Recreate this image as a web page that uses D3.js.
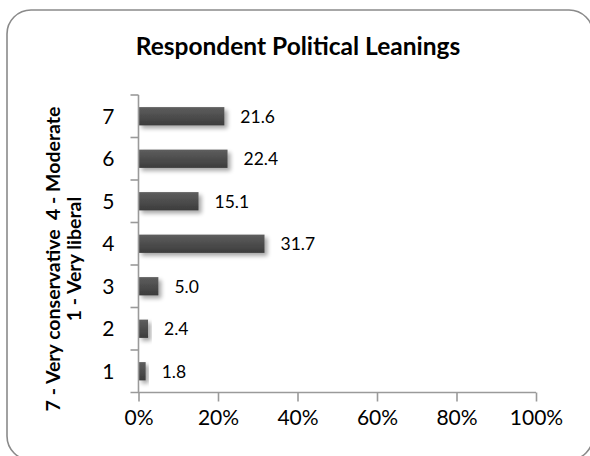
<!DOCTYPE html>
<html>
<head>
<meta charset="utf-8">
<script src="https://cdn.jsdelivr.net/npm/d3@7"></script>
<style>
  html, body { margin: 0; padding: 0; background: #fff; overflow: hidden; }
  svg { display: block; font-family: Lato, "Open Sans", sans-serif; }
</style>
</head>
<body>
<svg id="chart" width="590" height="456"></svg>
<script>
// Response scale, top to bottom as drawn
const categories = ["7", "6", "5", "4", "3", "2", "1"];
// Share of respondents (%) for each scale point
const values = [21.6, 22.4, 15.1, 31.7, 5.0, 2.4, 1.8];
const xTicks = [0, 20, 40, 60, 80, 100];
const chartTitle = "Respondent Political Leanings";
const yTitleLines = ["7 - Very conservative  4 - Moderate", "1 - Very liberal"];

const svg = d3.select("#chart");
const plot = { left: 138.5, right: 536, top: 95, bottom: 392.5 };

// Outer frame: rounded outline that runs past the right and bottom edges
const frame = { x0: 7, y0: 10, x1: 593, y1: 460, r: 24 };
const fp = d3.path();
fp.moveTo(frame.x1, frame.y1 - frame.r);
fp.arcTo(frame.x1, frame.y1, frame.x1 - frame.r, frame.y1, frame.r);
fp.lineTo(frame.x0 + frame.r, frame.y1);
fp.arcTo(frame.x0, frame.y1, frame.x0, frame.y1 - frame.r, frame.r);
fp.lineTo(frame.x0, frame.y0 + frame.r);
fp.arcTo(frame.x0, frame.y0, frame.x0 + frame.r, frame.y0, frame.r);
fp.lineTo(frame.x1 - frame.r, frame.y0);
fp.arcTo(frame.x1, frame.y0, frame.x1, frame.y0 + frame.r, frame.r);
svg.append("path")
  .attr("d", fp.toString())
  .attr("fill", "none")
  .attr("stroke", "#8a8a8a")
  .attr("stroke-width", 1.6);

// Drop shadow for the bars
const defs = svg.append("defs");
const shadow = defs.append("filter").attr("id", "barShadow")
  .attr("x", "-20%").attr("y", "-40%").attr("width", "160%").attr("height", "200%");
shadow.append("feGaussianBlur").attr("in", "SourceAlpha").attr("stdDeviation", 2.2).attr("result", "blur");
shadow.append("feOffset").attr("in", "blur").attr("dx", 3).attr("dy", 3).attr("result", "off");
shadow.append("feComponentTransfer").attr("in", "off").attr("result", "soft")
  .append("feFuncA").attr("type", "linear").attr("slope", 0.35);
const merge = shadow.append("feMerge");
merge.append("feMergeNode").attr("in", "soft");
merge.append("feMergeNode").attr("in", "SourceGraphic");

const grad = defs.append("linearGradient").attr("id", "barFill")
  .attr("x1", 0).attr("y1", 0).attr("x2", 0).attr("y2", 1);
grad.append("stop").attr("offset", "0%").attr("stop-color", "#5e5e5e");
grad.append("stop").attr("offset", "100%").attr("stop-color", "#3c3c3c");

// Scales
const x = d3.scaleLinear().domain([0, 100]).range([plot.left, plot.right]);
const y = d3.scaleBand().domain(categories).range([plot.top, plot.bottom]).padding(0);
const barH = y.bandwidth() * 0.43;

// Title
svg.append("text")
  .attr("x", 298).attr("y", 55)
  .attr("text-anchor", "middle")
  .attr("font-weight", "bold")
  .attr("font-size", 24.5)
  .attr("fill", "#000")
  .text(chartTitle);

// Vertical axis title (two lines, rotated)
const yTitle = svg.append("text")
  .attr("transform", "translate(60,259) rotate(-90)")
  .attr("text-anchor", "middle")
  .attr("font-weight", "bold")
  .attr("font-size", 19.5)
  .attr("fill", "#000")
  .style("white-space", "pre");
yTitleLines.forEach((line, i) => {
  yTitle.append("tspan").attr("x", 0).attr("dy", i === 0 ? 0 : 21).text(line);
});

// Bars
svg.append("g").selectAll("rect")
  .data(values)
  .join("rect")
  .attr("x", x(0))
  .attr("y", (d, i) => y(categories[i]) + (y.bandwidth() - barH) / 2)
  .attr("width", d => x(d) - x(0))
  .attr("height", barH)
  .attr("fill", "url(#barFill)")
  .attr("filter", "url(#barShadow)");

// Value labels
svg.append("g").selectAll("text")
  .data(values)
  .join("text")
  .attr("x", d => x(d) + 16)
  .attr("y", (d, i) => y(categories[i]) + y.bandwidth() / 2)
  .attr("dy", "0.36em")
  .attr("font-size", 17.5)
  .attr("fill", "#000")
  .text(d => d.toFixed(1));

// Category axis: ticks between categories, labels centered on each band
const axisColor = "#9a9a9a";
const yAxis = svg.append("g");
yAxis.append("line")
  .attr("x1", plot.left).attr("x2", plot.left)
  .attr("y1", plot.top).attr("y2", plot.bottom)
  .attr("stroke", axisColor).attr("stroke-width", 1.6);
yAxis.selectAll("line.tick")
  .data(categories)
  .join("line")
  .attr("class", "tick")
  .attr("x1", plot.left - 8).attr("x2", plot.left)
  .attr("y1", d => y(d)).attr("y2", d => y(d))
  .attr("stroke", axisColor).attr("stroke-width", 1.6);
yAxis.selectAll("text")
  .data(categories)
  .join("text")
  .attr("x", plot.left - 24)
  .attr("y", d => y(d) + y.bandwidth() / 2)
  .attr("dy", "0.36em")
  .attr("text-anchor", "end")
  .attr("font-size", 21)
  .attr("fill", "#000")
  .text(d => d);

// Value axis along the bottom
const xAxis = d3.axisBottom(x)
  .tickValues(xTicks)
  .tickSize(9)
  .tickPadding(9)
  .tickFormat(d => d + "%");
const gx = svg.append("g")
  .attr("transform", `translate(0,${plot.bottom})`)
  .call(xAxis);
gx.select(".domain").remove();
gx.append("line")
  .attr("x1", plot.left - 8).attr("x2", plot.right)
  .attr("stroke", axisColor).attr("stroke-width", 1.6);
gx.selectAll(".tick line").attr("stroke", axisColor).attr("stroke-width", 1.6);
gx.selectAll(".tick text")
  .attr("font-family", "Lato, sans-serif")
  .attr("font-size", 21)
  .attr("fill", "#000");
</script>
</body>
</html>
